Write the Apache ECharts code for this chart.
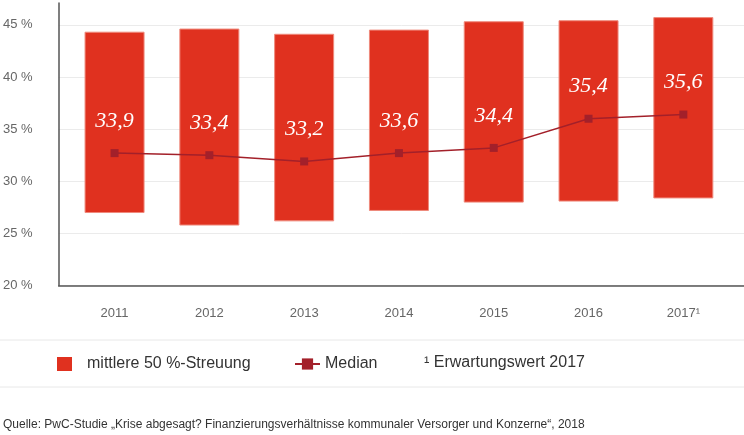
<!DOCTYPE html>
<html>
<head>
<meta charset="utf-8">
<script src="https://cdn.jsdelivr.net/npm/echarts@6/dist/echarts.min.js"></script>
<style>
  html, body { margin: 0; padding: 0; background: #fff; }
  #main { width: 744px; height: 435px; }
</style>
</head>
<body>
<div id="main"></div>
<script>
// Daten
var years = ['2011', '2012', '2013', '2014', '2015', '2016', '2017¹'];
var q25 = [27.0, 25.8, 26.2, 27.2, 28.0, 28.1, 28.4];
var q75 = [44.3, 44.6, 44.1, 44.5, 45.3, 45.4, 45.7];
var median = [32.7, 32.5, 31.9, 32.7, 33.2, 36.0, 36.4];
var medianLabels = [33.9, 33.4, 33.2, 33.6, 34.4, 35.4, 35.6];
var yTicks = [20, 25, 30, 35, 40, 45];

var myChart = echarts.init(document.getElementById('main'));

var rangeData = [], medData = [];
for (var i = 0; i < years.length; i++) {
    rangeData.push([i, q25[i], q75[i]]);
    medData.push([i, median[i]]);
}

var BAR_W = 59;

// Balken von q25 bis q75
function renderRange(params, api) {
    var x = api.value(0);
    var lo = api.coord([x, api.value(1)]);
    var hi = api.coord([x, api.value(2)]);
    return {
        type: 'rect',
        shape: { x: lo[0] - BAR_W / 2, y: hi[1], width: BAR_W, height: lo[1] - hi[1] },
        style: { fill: '#e0311f', stroke: '#ef8a7c', lineWidth: 1 }
    };
}

var option = {
    animation: false,
    backgroundColor: '#fff',
    textStyle: { fontFamily: 'Liberation Sans, Arial, sans-serif' },
    grid: { left: 58, right: 0, top: 3, bottom: 149.5 },
    xAxis: {
        type: 'value',
        min: -0.59,
        max: 6.64,
        splitLine: { show: false },
        axisLine: { show: true, onZero: false, lineStyle: { color: '#555', width: 1.5 } },
        axisTick: { show: false },
        axisLabel: {
            customValues: [0, 1, 2, 3, 4, 5, 6],
            formatter: function (v) { return years[v]; },
            color: '#666',
            fontSize: 13,
            margin: 21
        }
    },
    yAxis: {
        type: 'value',
        min: 20,
        max: 47.1,
        axisLine: { show: true, onZero: false, lineStyle: { color: '#555', width: 1.5 } },
        axisTick: { show: false, customValues: yTicks },
        splitLine: { lineStyle: { color: '#ebebeb', width: 1 } },
        axisLabel: {
            customValues: yTicks,
            formatter: function (v) { return v + ' %'; },
            color: '#666',
            fontSize: 13,
            margin: 26
        }
    },
    //图注
    legend: [
        {
            data: [{ name: 'mittlere 50 %-Streuung', icon: 'rect' }],
            left: 57, top: 356, padding: 0,
            itemWidth: 15, itemHeight: 14,
            textStyle: { fontSize: 16, color: '#333', padding: [0, 0, 0, 10] }
        },
        {
            data: ['Median'],
            left: 294, top: 356, padding: 0,
            itemWidth: 25, itemHeight: 14,
            textStyle: { fontSize: 16, color: '#333' }
        }
    ],
    graphic: [
        { type: 'line', shape: { x1: 0, y1: 340, x2: 744, y2: 340 }, style: { stroke: '#e8e8e8', lineWidth: 1 } },
        { type: 'line', shape: { x1: 0, y1: 387, x2: 744, y2: 387 }, style: { stroke: '#e8e8e8', lineWidth: 1 } },
        {
            type: 'text', left: 424, top: 355,
            style: { text: '¹ Erwartungswert 2017', font: '16px "Liberation Sans", Arial, sans-serif', fill: '#333' }
        },
        {
            type: 'text', left: 3, top: 419,
            style: {
                text: 'Quelle: PwC-Studie „Krise abgesagt? Finanzierungsverhältnisse kommunaler Versorger und Konzerne“, 2018',
                font: '12px "Liberation Sans", Arial, sans-serif', fill: '#333'
            }
        }
    ],
    series: [
        {
            name: 'mittlere 50 %-Streuung',
            type: 'custom',
            renderItem: renderRange,
            encode: { x: 0, y: [1, 2] },
            itemStyle: { color: '#e0311f' },
            data: rangeData,
            z: 2
        },
        {
            name: 'Median',
            type: 'line',
            symbol: 'rect',
            symbolSize: 8,
            lineStyle: { color: '#a3202a', width: 1.5 },
            itemStyle: { color: '#a3202a' },
            label: {
                show: true,
                position: 'top',
                distance: 17,
                formatter: function (p) { return String(medianLabels[p.dataIndex]).replace('.', ','); },
                color: '#fff',
                fontSize: 22,
                fontStyle: 'italic',
                fontFamily: 'Liberation Serif, Times New Roman, serif'
            },
            data: medData,
            z: 5
        }
    ]
};

myChart.setOption(option);
</script>
</body>
</html>
